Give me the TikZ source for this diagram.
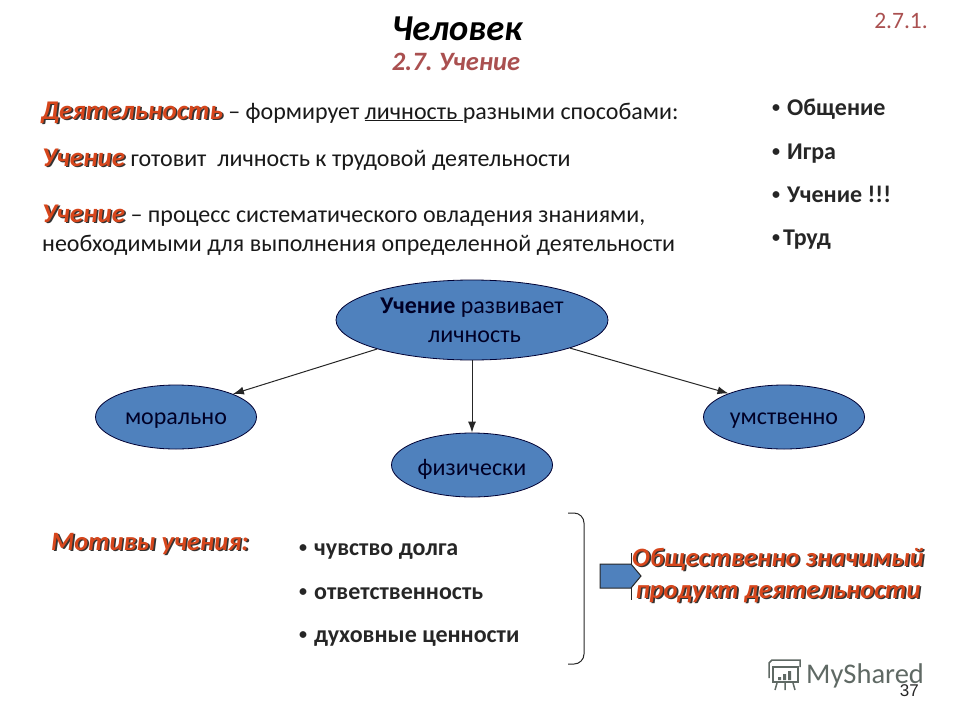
\documentclass[tikz,border=0pt]{standalone}
\usepackage{fontspec}
\setmainfont{Carlito}
\newfontfamily\arialfont{Liberation Sans}
\usetikzlibrary{arrows.meta,shapes,calc}
\definecolor{ovalblue}{RGB}{79,129,189}
\definecolor{wordred}{RGB}{214,70,28}
\definecolor{subred}{RGB}{170,80,80}
\definecolor{logogray}{RGB}{95,105,100}
\newcommand{\shword}[1]{\leavevmode\rlap{\hspace{1.6pt}\raisebox{-1.6pt}{\textcolor{black!80}{#1}}}\textcolor{wordred}{#1}}
\newcommand{\headword}[1]{{\fontsize{27}{30}\selectfont\bfseries\itshape\shword{#1}}}
\newcommand{\bul}[1]{\makebox[#1][l]{\fontsize{16}{16}\selectfont\raisebox{3pt}{•}}}
\tikzstyle{oval}=[ellipse,fill=ovalblue,draw=black!80!blue,line width=0.8pt,inner sep=0pt,font=\fontsize{24}{29}\selectfont\frenchspacing,text=black!85!blue,align=center]
\tikzstyle{line}=[anchor=base west,inner sep=0pt,font=\fontsize{24}{29}\selectfont\frenchspacing,text=black!90]
\tikzstyle{item}=[anchor=base west,inner sep=0pt,font=\fontsize{24}{29}\selectfont\bfseries,text=black!85]
\tikzstyle{redhead}=[anchor=base west,inner sep=0pt,font=\fontsize{26.5}{31}\selectfont\bfseries\itshape]
\tikzstyle{edge}=[draw,-{Latex[length=11pt,width=8pt]},black!85,line width=1pt]
\begin{document}
\begin{tikzpicture}[x=1pt,y=1pt]
    \useasboundingbox (0,0) rectangle (960,-720);

    % headings
    \node[anchor=base,inner sep=0pt,font=\fontsize{36.5}{42}\selectfont\bfseries\itshape] (title) at (457,-40) {Человек};
    \node[anchor=base,inner sep=0pt,font=\fontsize{26.5}{31}\selectfont\bfseries\itshape\frenchspacing,text=subred] (subtitle) at (456,-70) {2.7. Учение};
    \node[anchor=base east,inner sep=0pt,font=\fontsize{23.5}{28}\selectfont,text=subred] (number) at (928,-28) {2.7.1.};

    % text lines
    \node[line] (line1) at (41,-119) {\headword{Деятельность} -- формирует \underline{личность\ }разными способами:};
    \node[line] (line2) at (42,-166) {\headword{Учение} готовит\ \ личность к трудовой деятельности};
    \node[line] (line3) at (42,-222) {\headword{Учение} -- процесс систематического овладения знаниями,};
    \node[line] (line4) at (42,-251) {необходимыми для выполнения определенной деятельности};

    % right list
    \foreach \name/\ypos/\txt in {item1/115/{\bul{15pt}Общение}, item2/159/{\bul{15pt}Игра}, item3/202/{\bul{15pt}Учение !!!}, item4/245/{\bul{11pt}Труд}}
        \node[item] (\name) at (772,-\ypos) {\txt};

    % ovals
    \node[oval,minimum width=272pt,minimum height=80pt] (main) at (472,-320) {\textbf{Учение} развивает\\\hspace{5pt}личность};
    \foreach \name/\pos/\txt in {moral/{(176,-417)}/морально, phys/{(472,-465)}/физически, mental/{(784,-417)}/умственно}
        \node[oval,minimum width=161pt,minimum height=64pt] (\name) at \pos {\raisebox{-2pt}[\height][0pt]{\txt}};

    \path[edge] (main.-163) -- (moral.22);
    \path[edge] (main.-16.5) -- (mental.157);
    \path[edge] (main) -- (phys);

    % lower part
    \node[redhead] (motives) at (51,-550) {\shword{Мотивы учения:}};
    \foreach \name/\ypos/\txt in {motive1/555/{\bul{15pt}чувство долга}, motive2/599/{\bul{15pt}ответственность}, motive3/642/{\bul{15pt}духовные ценности}}
        \node[item] (\name) at (299,-\ypos) {\txt};

    \draw[black!85,line width=1pt,rounded corners=10pt] (568,-513) -- (584,-513) -- (584,-664) -- (568,-664);

    \draw[fill=ovalblue,draw=black!85,line width=1pt] (600,-564) -- (631,-564) -- (641,-576) -- (631,-588) -- (600,-588) -- cycle;
    \draw[black!85,line width=1pt] (631,-553) -- (631,-564) (631,-588) -- (631,-600);
    \node[redhead,anchor=center,align=center,font=\fontsize{26.5}{32}\selectfont\bfseries\itshape] (product) at (778,-576) {\shword{Общественно значимый}\\\shword{продукт деятельности}};

    % logo and page number
    \node[anchor=base west,inner sep=0pt,font=\fontsize{28.5}{32}\selectfont,text=logogray] (logo) at (806,-683) {MyShared};
    \draw[logogray,line width=1.5pt] (773,-667) rectangle (798,-682);
    \draw[logogray,line width=1.5pt] (769,-678) -- (769,-663) -- (772,-660) -- (800,-660) -- (800,-667);
    \fill[logogray] (778,-680) rectangle (781,-677) (783,-680) rectangle (786,-674) (788,-680) rectangle (791,-671);
    \draw[logogray,line width=1.5pt] (777,-683) -- (775,-690) (785,-683) -- (785,-690) (793,-683) -- (795,-690);
    \node[anchor=base east,inner sep=0pt,font=\arialfont\fontsize{17}{20}\selectfont,text=black!85] (page) at (919,-696) {37};
\end{tikzpicture}
\end{document}
